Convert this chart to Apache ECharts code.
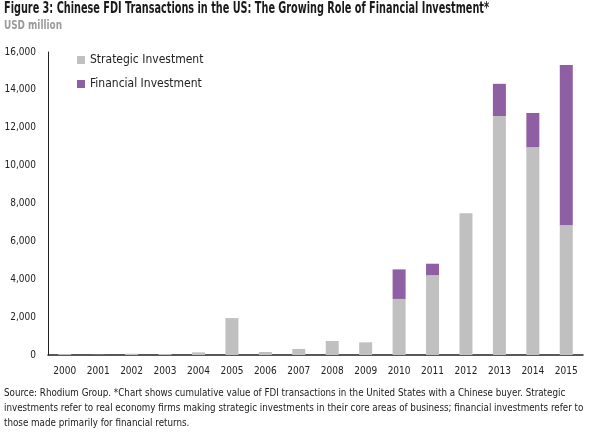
<!DOCTYPE html>
<html><head><meta charset="utf-8">
<script src="https://cdn.jsdelivr.net/npm/echarts@6/dist/echarts.min.js"></script>
<style>html,body{margin:0;padding:0;background:#fff}#c{width:589px;height:434px}</style>
</head><body><div id="c"></div>
<script>
const years = ['2000','2001','2002','2003','2004','2005','2006','2007','2008','2009','2010','2011','2012','2013','2014','2015'];
const strategic = [50, 10, 70, 50, 140, 1950, 160, 320, 740, 670, 2960, 4220, 7480, 12620, 10980, 6850];
const financial = [0, 0, 0, 0, 0, 0, 0, 0, 0, 0, 1560, 600, 0, 1700, 1800, 8460];
const yTicks = [0, 2000, 4000, 6000, 8000, 10000, 12000, 14000, 16000];
const titleText = 'Figure 3: Chinese FDI Transactions in the US: The Growing Role of Financial Investment*';
const subText = 'USD million';
const footLines = [
  'Source: Rhodium Group. *Chart shows cumulative value of FDI transactions in the United States with a Chinese buyer. Strategic',
  'investments refer to real economy firms making strategic investments in their core areas of business; financial investments refer to',
  'those made primarily for financial returns.'
];
const FONT = '"DejaVu Sans Condensed", "Liberation Sans", sans-serif';
const chart = echarts.init(document.getElementById('c'));
chart.setOption({
  animation: false,
  textStyle: { fontFamily: FONT },
  graphic: [
    { type: 'text', x: 4, y: 2, scaleX: 0.72, style: { text: titleText, font: 'bold 15px ' + FONT, fill: '#1a1a1a' } },
    { type: 'text', x: 4, y: 19, scaleX: 0.76, style: { text: subText, font: 'bold 13px ' + FONT, fill: '#9a9a9a' } },
    { type: 'text', x: 4, y: 386, scaleX: 0.885, style: { text: footLines.join('\n'), font: '11px ' + FONT, fill: '#1a1a1a', lineHeight: 15 } }
  ],
  legend: {
    orient: 'vertical', left: 77, top: 54, padding: 0, itemWidth: 8, itemHeight: 8, itemGap: 12, icon: 'rect',
    textStyle: { fontFamily: FONT, fontSize: 12, color: '#222' },
    itemStyle: { borderWidth: 0 },
    data: ['Strategic Investment', 'Financial Investment']
  },
  grid: { left: 48, right: 6, top: 52, bottom: 79, containLabel: false },
  xAxis: {
    type: 'category', data: years,
    axisLine: { lineStyle: { color: '#222', width: 1.5 } },
    axisTick: { show: false },
    axisLabel: { fontFamily: FONT, fontSize: 10, color: '#222', margin: 11 }
  },
  yAxis: {
    type: 'value', min: 0, max: 16000, interval: 2000,
    splitLine: { show: false },
    axisLine: { show: true, lineStyle: { color: '#222', width: 1 } },
    axisTick: { show: false },
    axisLabel: { fontFamily: FONT, fontSize: 10, color: '#222', margin: 12,
      formatter: v => yTicks.includes(v) ? v.toLocaleString('en-US') : '' }
  },
  series: [
    { name: 'Strategic Investment', type: 'bar', stack: 's', data: strategic, barWidth: 13,
      itemStyle: { color: '#c0c0c0' } },
    { name: 'Financial Investment', type: 'bar', stack: 's', data: financial, barWidth: 13,
      itemStyle: { color: '#8f5fa3' } }
  ]
});
</script></body></html>
